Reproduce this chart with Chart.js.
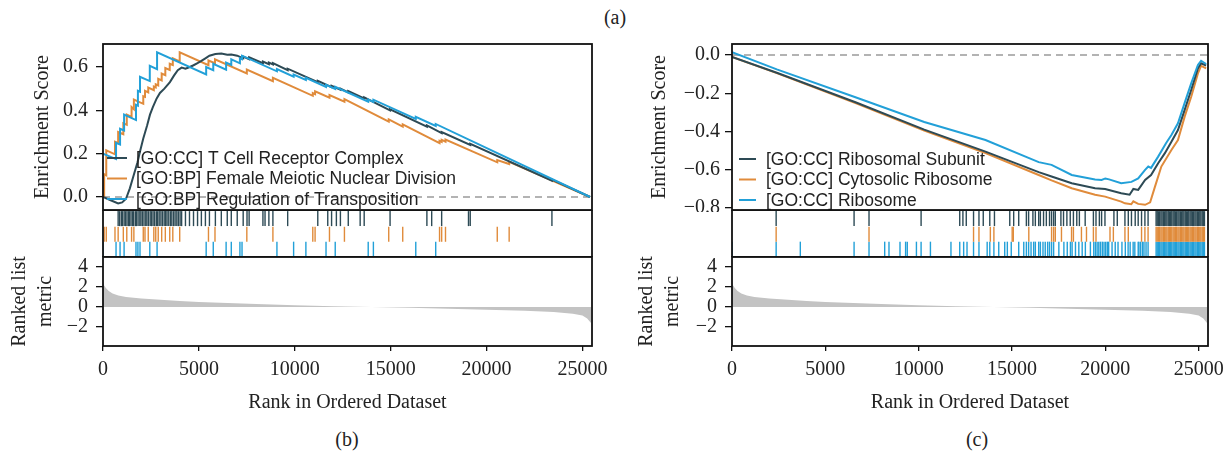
<!DOCTYPE html>
<html><head><meta charset="utf-8">
<script src="https://cdn.jsdelivr.net/npm/chart.js@4.4.1/dist/chart.umd.min.js"></script>
<style>
html,body{margin:0;padding:0;background:#fff;}
#fig{position:relative;width:1230px;height:453px;overflow:hidden;background:#fff;}
#fig canvas{position:absolute;}
.cap{position:absolute;font-family:'Liberation Serif','Times New Roman',serif;font-size:20px;color:#222;transform:translate(-50%,-50%);white-space:nowrap;}
</style></head><body>
<div id="fig">
<div class="cap" style="left:615px;top:17px">(a)</div>
<div class="cap" style="left:347px;top:439px">(b)</div>
<div class="cap" style="left:977px;top:439px">(c)</div>
</div>
<script>
// ---------------- DATA ----------------
const rankTicks = [0, 5000, 10000, 15000, 20000, 25000];
const leftESTicks = [0, 0.2, 0.4, 0.6];
const rightESTicks = [0, -0.2, -0.4, -0.6, -0.8];
const metricTicks = [-2, 0, 2, 4];

const leftSetNames = ['[GO:CC] T Cell Receptor Complex', '[GO:BP] Female Meiotic Nuclear Division', '[GO:BP] Regulation of Transposition'];
const rightSetNames = ['[GO:CC] Ribosomal Subunit', '[GO:CC] Cytosolic Ribosome', '[GO:CC] Ribosome'];

// left running enrichment scores
const leftDarkRank = [0,400,790,1000,1200,1400,1600,1800,1930,2100,2300,2450,2600,2800,2970,3200,3490,3700,3900,4100,4300,4530,4720,4930,5130,5340,5550,5860,6170,6480,6690,7000,7310,7310,7620,7620,8340,8340,8650,8650,8860,8860,9630,9630,11200,11200,11920,11920,12380,12380,12790,12790,13620,13620,14970,14970,16890,16890,17660,17660,19150,19150,23410,23410,25400];
const leftDarkES = [0,-0.015,-0.03,-0.025,-0.008,0.04,0.1,0.16,0.21,0.27,0.33,0.38,0.415,0.455,0.48,0.5,0.53,0.56,0.585,0.597,0.592,0.6,0.608,0.618,0.628,0.64,0.652,0.66,0.662,0.656,0.657,0.652,0.64,0.648,0.636,0.645,0.617,0.625,0.613,0.62,0.612,0.618,0.585,0.592,0.53,0.536,0.507,0.513,0.495,0.5,0.483,0.489,0.455,0.46,0.4,0.405,0.325,0.33,0.295,0.3,0.24,0.245,0.075,0.08,0];

const leftOrangeRank = [0,60,60,170,170,625,625,790,790,1060,1060,1240,1240,1490,1490,1610,1610,2100,2100,2190,2190,2360,2360,2650,2650,2750,2750,2880,2880,3060,3060,3250,3250,3480,3480,3640,3640,4000,4000,5500,5500,5840,5840,7500,7500,8860,8860,10940,10940,11060,11060,11810,11810,12590,12590,14900,14900,15630,15630,17550,17550,17660,17660,17860,17860,20560,20560,21180,21180,25400];
const leftOrangeES = [0,0,0.105,0.1,0.215,0.197,0.255,0.249,0.3,0.29,0.34,0.333,0.38,0.37,0.415,0.405,0.45,0.43,0.465,0.462,0.49,0.483,0.505,0.493,0.51,0.506,0.52,0.515,0.545,0.538,0.57,0.562,0.595,0.586,0.615,0.609,0.64,0.626,0.668,0.608,0.63,0.617,0.635,0.57,0.588,0.534,0.55,0.467,0.48,0.475,0.488,0.458,0.47,0.44,0.452,0.348,0.358,0.325,0.335,0.249,0.259,0.254,0.264,0.255,0.265,0.16,0.17,0.152,0.162,0];

const leftBlueRank = [0,680,680,890,890,1100,1100,1720,1720,1820,1820,1930,1930,2440,2440,2820,2820,5380,5380,5750,5750,6420,6420,6690,6690,7140,7140,7250,7250,9070,9070,9940,9940,10580,10580,11630,11630,12110,12110,13830,13830,14100,14100,16310,16310,17350,17350,25400];
const leftBlueES = [0.2,0.175,0.25,0.242,0.315,0.307,0.38,0.355,0.425,0.421,0.49,0.486,0.555,0.535,0.605,0.59,0.668,0.566,0.6,0.585,0.615,0.588,0.62,0.609,0.635,0.617,0.64,0.636,0.652,0.58,0.59,0.555,0.565,0.54,0.55,0.508,0.518,0.499,0.508,0.44,0.45,0.439,0.449,0.36,0.37,0.328,0.337,0];

// right running enrichment scores
const rightDarkRank = [0,2400,6650,10300,13580,16430,17120,18200,19450,19990,20850,21300,21500,21760,22130,22450,22830,23190,23540,23890,24250,24600,24960,25130,25400];
const rightDarkES = [-0.01,-0.093,-0.248,-0.39,-0.505,-0.612,-0.635,-0.67,-0.696,-0.7,-0.722,-0.73,-0.7,-0.705,-0.653,-0.627,-0.566,-0.513,-0.453,-0.392,-0.287,-0.183,-0.07,-0.043,-0.055];
const rightOrangeRank = [0,2400,6650,10300,13580,16430,17120,18200,19450,19990,20850,21050,21390,21500,21760,22130,22400,22660,23000,23540,23890,24250,24600,24960,25130,25400];
const rightOrangeES = [-0.01,-0.095,-0.252,-0.395,-0.513,-0.627,-0.655,-0.696,-0.73,-0.74,-0.766,-0.775,-0.78,-0.765,-0.778,-0.783,-0.77,-0.688,-0.583,-0.496,-0.444,-0.322,-0.218,-0.096,-0.057,-0.07];
const rightBlueRank = [0,2400,6650,10300,13580,16430,17120,18200,19450,19800,20000,20200,20850,21400,21760,22130,22300,22450,22830,23250,23540,23890,24250,24600,24960,25130,25400];
const rightBlueES = [0.015,-0.075,-0.222,-0.35,-0.444,-0.56,-0.574,-0.627,-0.65,-0.653,-0.645,-0.65,-0.67,-0.663,-0.645,-0.6,-0.583,-0.59,-0.531,-0.461,-0.418,-0.357,-0.25,-0.148,-0.052,-0.03,-0.047];

// gene-set hit positions (rug)
const leftDarkRug = [790,870,960,1010,1100,1170,1250,1330,1380,1460,1540,1600,1690,1750,1830,1920,1980,2060,2140,2230,2290,2370,2460,2530,2610,2690,2780,2850,2930,3020,3100,3190,3270,3340,3430,3520,3590,3680,3760,3850,3930,4020,4100,4300,4510,4720,4930,5130,5340,5550,5860,6170,6480,6690,7000,7310,7510,7620,8340,8450,8650,8860,9630,11200,11720,11920,12170,12380,12790,13410,13620,14970,16890,17140,17660,19060,19150,23410];
const leftOrangeRug = [60,170,625,790,1060,1240,1490,1610,2100,2190,2360,2650,2750,2880,3060,3250,3480,3640,4000,5500,5840,7500,8860,10940,11060,11810,12590,14900,15630,17550,17660,17860,20560,21180];
const leftBlueRug = [0,680,890,1100,1720,1820,1930,2440,2820,5380,5750,6420,6690,7140,7250,9070,9940,10580,11630,12110,13830,14100,16310,17350];

const rightTailBlock = [22720,22780,22850,22910,22980,23040,23110,23170,23240,23300,23370,23430,23500,23560,23630,23690,23760,23820,23890,23950,24020,24080,24150,24210,24280,24340,24410,24470,24540,24600,24670,24730,24800,24860,24930,24990,25060,25120,25190,25250,25310];
const rightDarkRug = [2365,6540,7340,10130,12200,12370,12550,12940,13230,13460,13810,14060,14880,15090,15360,15770,15890,16120,16250,16430,16520,16690,16840,17010,17120,17230,17320,17620,17760,17940,18120,18290,18470,18610,18920,19360,19500,19680,19800,19980,20460,20640,21050,21230,21400,21600,21760,21940,22120,22290];
const rightOrangeRug = [2365,7340,12940,13230,13840,14030,15010,15070,15900,17120,17230,17320,17650,18190,18290,18720,18990,19360,19500,20250,20430,21050,21230,21940,22120,22290];
const rightBlueRug = [0,2365,3660,6540,7340,8180,8410,9000,9300,9390,9880,10130,10630,11730,12200,12410,12590,12940,13230,13670,13810,14030,14290,14610,14750,14960,15360,15630,15770,15890,16020,16160,16250,16430,16520,16660,16780,16910,17010,17120,17230,17510,17780,17960,18130,18220,18400,18580,18760,18930,19200,19380,19470,19560,19650,19740,19840,19930,20020,20110,20180,20360,20530,20680,20890,21070,21220,21330,21490,21580,21760,21800,21890,21990,22070,22180,22290];

// ranked list metric
const metricRank = [0,60,150,300,500,800,1200,2000,3000,4000,5000,6500,8000,10000,12000,14000,16000,18000,20000,22000,23500,24500,25000,25250,25450];
const metricValue = [2.4,2.15,1.9,1.6,1.35,1.15,1.0,0.85,0.72,0.6,0.5,0.4,0.3,0.18,0.08,0.0,-0.08,-0.17,-0.27,-0.38,-0.5,-0.68,-0.85,-1.15,-1.6];

// ---------------- STYLE ----------------
const C_DARK = '#2d4a55', C_ORANGE = '#e08b3b', C_BLUE = '#22a0d8';
const SERIF = "'Liberation Serif','Times New Roman',serif";
const SANS = "'Liberation Sans',Arial,sans-serif";
const XMAX = 25500;

function pts(xs, ys) { return xs.map((x, i) => ({x: x, y: ys[i]})); }
function rowPts(xs, row) { return xs.map(x => ({x: x, y: row})); }
function minusFmt(d) { return v => (v < 0 ? '\u2212' : '') + (d ? Math.abs(v).toFixed(d) : String(Math.abs(v))); }

function mk(left, top, w, h) {
  const c = document.createElement('canvas');
  c.width = w; c.height = h;
  c.style.left = left + 'px'; c.style.top = top + 'px';
  c.style.width = w + 'px'; c.style.height = h + 'px';
  document.getElementById('fig').appendChild(c);
  return c;
}

const framePlugin = {
  id: 'frame',
  afterDraw(chart) {
    const {ctx, chartArea: a} = chart;
    ctx.save(); ctx.strokeStyle = '#111'; ctx.lineWidth = 1.8;
    ctx.strokeRect(a.left, a.top, a.right - a.left, a.bottom - a.top);
    ctx.restore();
  }
};

function legendPlugin(names, colors, lay) {
  return {
    id: 'inlineLegend',
    afterDatasetsDraw(chart) {
      const {ctx, chartArea: a} = chart;
      ctx.save();
      ctx.font = lay.size + 'px ' + SANS;
      ctx.textBaseline = 'middle'; ctx.textAlign = 'left';
      names.forEach((n, i) => {
        const y = a.top + lay.ys[i];
        ctx.strokeStyle = colors[i]; ctx.lineWidth = 2;
        ctx.beginPath(); ctx.moveTo(a.left + lay.x0, y); ctx.lineTo(a.left + lay.x1, y); ctx.stroke();
        ctx.fillStyle = '#222';
        ctx.fillText(n, a.left + lay.tx, y + 1);
      });
      ctx.restore();
    }
  };
}

function yAxis(o) {
  return {
    type: 'linear', min: o.min, max: o.max, position: 'left',
    afterBuildTicks: s => { s.ticks = o.ticks.map(v => ({value: v})); },
    afterFit: s => { s.width = o.width; s.paddingTop = 0; s.paddingBottom = 0; },
    ticks: {font: {family: SERIF, size: 20}, color: '#222', padding: o.pad, callback: o.fmt},
    grid: {display: true, drawOnChartArea: false, drawTicks: true, tickLength: 7, color: '#111', lineWidth: 1.3},
    border: {display: false},
    title: {display: true, text: o.title, color: '#222', padding: 0,
            font: {family: SERIF, size: 20, lineHeight: o.lh || 1.2}}
  };
}
function hiddenX() { return {type: 'linear', min: 0, max: XMAX, display: false}; }

const baseOpts = {responsive: false, maintainAspectRatio: false, devicePixelRatio: 1, animation: false, events: []};
const noPlug = {legend: {display: false}, tooltip: {enabled: false}, title: {display: false}};

function curve(xs, ys, color) {
  return {data: pts(xs, ys), showLine: true, borderColor: color, borderWidth: 2, pointRadius: 0, tension: 0, fill: false};
}
function zeroLine() {
  return {data: [{x: 0, y: 0}, {x: XMAX, y: 0}], showLine: true, borderColor: '#9a9a9a', borderWidth: 1.6,
          borderDash: [7, 5], pointRadius: 0, fill: false};
}
function rug(xs, row, color) {
  return {data: rowPts(xs, row), showLine: false, pointStyle: 'line', pointRadius: 7.5, pointRotation: 90,
          pointBorderColor: color, pointBackgroundColor: color, pointBorderWidth: 1.4, pointHoverRadius: 0};
}

function esChart(canvas, pad, yopt, sets, names, lay) {
  new Chart(canvas, {
    type: 'scatter',
    data: {datasets: [
      curve(sets[2][0], sets[2][1], C_BLUE),
      curve(sets[0][0], sets[0][1], C_DARK),
      curve(sets[1][0], sets[1][1], C_ORANGE),
      zeroLine()
    ]},
    options: Object.assign({}, baseOpts, {
      layout: {padding: pad, autoPadding: false},
      scales: {x: hiddenX(), y: yAxis(yopt)},
      plugins: noPlug
    }),
    plugins: [framePlugin, legendPlugin(names, [C_DARK, C_ORANGE, C_BLUE], lay)]
  });
}

function rugChart(canvas, pad, rows) {
  new Chart(canvas, {
    type: 'scatter',
    data: {datasets: [rug(rows[0], 2.45, C_DARK), rug(rows[1], 1.45, C_ORANGE), rug(rows[2], 0.5, C_BLUE)]},
    options: Object.assign({}, baseOpts, {
      layout: {padding: pad, autoPadding: false},
      scales: {x: hiddenX(), y: {type: 'linear', min: 0, max: 3, display: false}},
      plugins: noPlug
    }),
    plugins: [framePlugin]
  });
}

function metricChart(canvas, pad, ywidth) {
  new Chart(canvas, {
    type: 'scatter',
    data: {datasets: [{data: pts(metricRank, metricValue), showLine: true, fill: 'origin',
      backgroundColor: '#c3c3c3', borderColor: 'rgba(0,0,0,0)', borderWidth: 0, pointRadius: 0}]},
    options: Object.assign({}, baseOpts, {
      layout: {padding: pad, autoPadding: false},
      scales: {
        x: {type: 'linear', min: 0, max: XMAX, position: 'bottom',
            afterBuildTicks: s => { s.ticks = rankTicks.map(v => ({value: v})); },
            afterFit: s => { s.height = 84; s.paddingLeft = 0; s.paddingRight = 0; },
            ticks: {font: {family: SERIF, size: 20}, color: '#222', padding: 7, maxRotation: 0, autoSkip: false,
                    callback: v => String(v)},
            grid: {display: true, drawOnChartArea: false, drawTicks: true, tickLength: 5, color: '#111', lineWidth: 1.3},
            border: {display: false},
            title: {display: true, text: 'Rank in Ordered Dataset', color: '#222',
                    font: {family: SERIF, size: 20}, padding: {top: 0, bottom: 15}}},
        y: yAxis({min: -3.9, max: 5.0, ticks: metricTicks, width: ywidth, pad: 8, fmt: minusFmt(0),
                  title: ['Ranked list', 'metric'], lh: 1.3})
      },
      plugins: noPlug
    }),
    plugins: [framePlugin]
  });
}

// ---------------- LEFT (b) ----------------
esChart(mk(0, 0, 600, 212), {left: 31, right: 8, top: 44, bottom: 2},
  {min: -0.06, max: 0.706, ticks: leftESTicks, width: 72, pad: 8, fmt: minusFmt(1), title: 'Enrichment Score'},
  [[leftDarkRank, leftDarkES], [leftOrangeRank, leftOrangeES], [leftBlueRank, leftBlueES]],
  leftSetNames, {size: 17.5, x0: 4, x1: 24, tx: 33, ys: [114, 134.5, 155]});
rugChart(mk(0, 210, 600, 47), {left: 103, right: 8, top: 0, bottom: 0},
  [leftDarkRug, leftOrangeRug, leftBlueRug]);
metricChart(mk(0, 250, 615, 180), {left: 7, right: 23, top: 7, bottom: 0}, 96);

// ---------------- RIGHT (c) ----------------
esChart(mk(615, 0, 615, 212), {left: 33, right: 22, top: 44, bottom: 2},
  {min: -0.81, max: 0.0575, ticks: rightESTicks, width: 84, pad: 5, fmt: minusFmt(1), title: 'Enrichment Score'},
  [[rightDarkRank, rightDarkES], [rightOrangeRank, rightOrangeES], [rightBlueRank, rightBlueES]],
  rightSetNames, {size: 17.5, x0: 7, x1: 24, tx: 34, ys: [115, 135.5, 156]});
rugChart(mk(615, 210, 615, 47), {left: 117, right: 22, top: 0, bottom: 0},
  [rightDarkRug.concat(rightTailBlock), rightOrangeRug.concat(rightTailBlock), rightBlueRug.concat(rightTailBlock)]);
metricChart(mk(615, 250, 615, 180), {left: 19, right: 22, top: 7, bottom: 0}, 98);
</script>
</body></html>
